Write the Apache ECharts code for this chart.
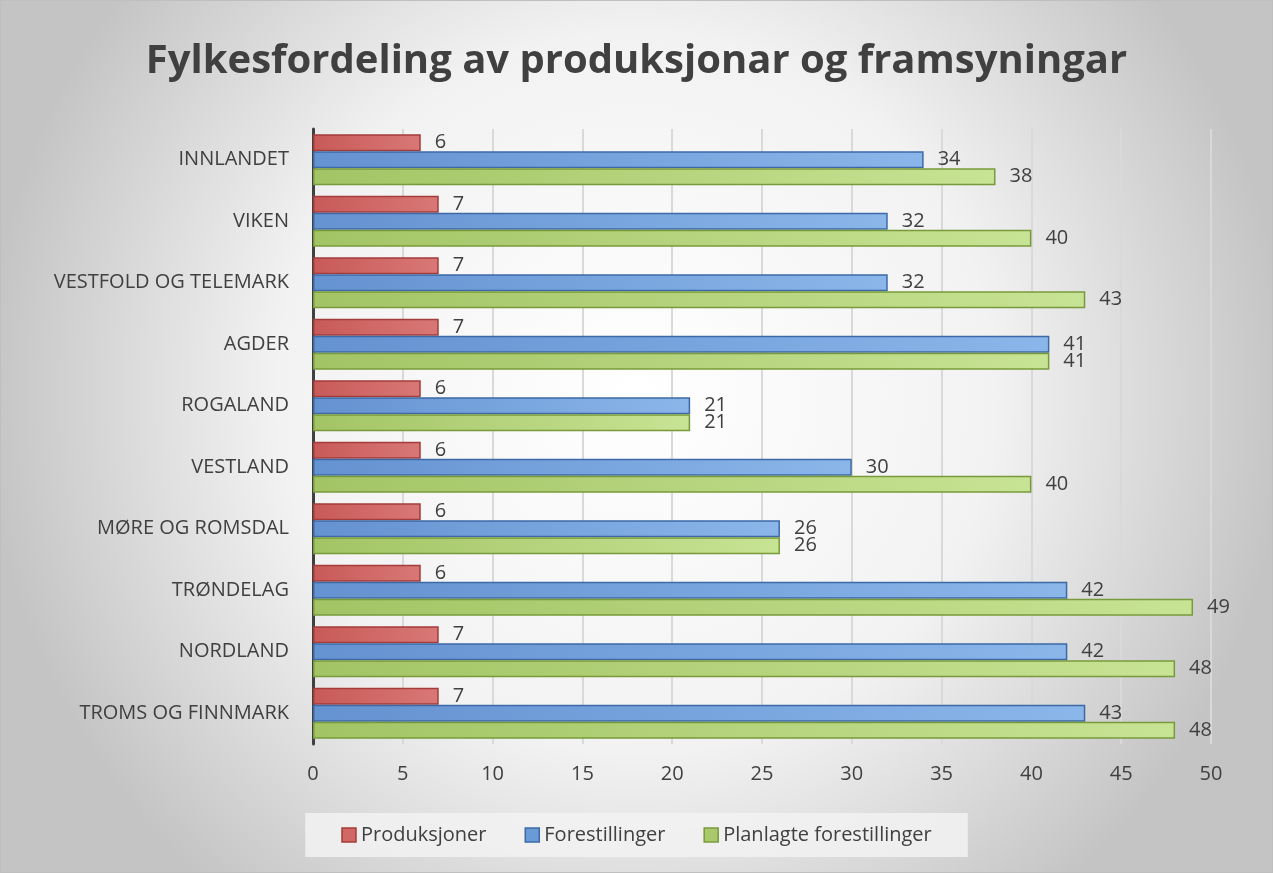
<!DOCTYPE html>
<html>
<head>
<meta charset="utf-8">
<script src="https://cdn.jsdelivr.net/npm/echarts@6/dist/echarts.min.js"></script>
<style>
  html, body { margin: 0; padding: 0; }
  #board { width: 1273px; height: 873px; box-sizing: border-box; border: 1px solid #bfbfbf; }
</style>
</head>
<body>
<div id="board"></div>
<script>
// fylker, ovanfrå og ned
const fylke = ["INNLANDET", "VIKEN", "VESTFOLD OG TELEMARK", "AGDER", "ROGALAND",
  "VESTLAND", "MØRE OG ROMSDAL", "TRØNDELAG", "NORDLAND", "TROMS OG FINNMARK"];
const produksjoner = [6, 7, 7, 7, 6, 6, 6, 6, 7, 7];
const forestillingar = [34, 32, 32, 41, 21, 30, 26, 42, 42, 43];
const planlagte = [38, 40, 43, 41, 21, 40, 26, 49, 48, 48];
const xTicks = [0, 50, 5]; // min, max, steg

const font = "'Open Sans', 'Noto Sans', sans-serif";

function grad(a, b) {
  return new echarts.graphic.LinearGradient(0, 0, 1, 0, [
    { offset: 0, color: a }, { offset: 1, color: b }
  ]);
}

function serie(name, data, fill, border) {
  return {
    name: name,
    type: "bar",
    data: data,
    barGap: "0%",
    barCategoryGap: "17%",
    itemStyle: { color: fill, borderColor: border, borderWidth: 1.5 },
    label: {
      show: true,
      position: "right",
      distance: 14,
      fontFamily: font,
      fontSize: 20,
      color: "#404040"
    }
  };
}

const chart = echarts.init(document.getElementById("board"));
chart.setOption({
  backgroundColor: new echarts.graphic.RadialGradient(0.5, 0.45, 0.75, [
    { offset: 0, color: "#ffffff" },
    { offset: 0.55, color: "#f2f2f2" },
    { offset: 1, color: "#c4c4c4" }
  ]),
  title: {
    text: "Fylkesfordeling av produksjonar og framsyningar",
    left: "center",
    top: 36,
    textStyle: { fontFamily: font, fontSize: 40, fontWeight: "bold", color: "#404040" }
  },
  legend: {
    bottom: 15,
    left: "center",
    icon: "rect",
    itemWidth: 14,
    itemHeight: 14,
    itemGap: 38,
    padding: [12, 36],
    backgroundColor: "rgba(242,242,242,0.85)",
    textStyle: { fontFamily: font, fontSize: 20, color: "#404040" },
    data: [
      { name: "Produksjoner", itemStyle: { color: "#d06866", borderColor: "#a33c3a", borderWidth: 1.5 } },
      { name: "Forestillinger", itemStyle: { color: "#6b9bd6", borderColor: "#3d6aa6", borderWidth: 1.5 } },
      { name: "Planlagte forestillinger", itemStyle: { color: "#a9c96c", borderColor: "#789a3a", borderWidth: 1.5 } }
    ]
  },
  grid: { left: 312, right: 61, top: 128, bottom: 128 },
  xAxis: {
    type: "value",
    min: xTicks[0],
    max: xTicks[1],
    interval: xTicks[2],
    axisLine: { show: false },
    axisTick: { show: false },
    axisLabel: { fontFamily: font, fontSize: 20, color: "#404040", margin: 20 },
    splitLine: { lineStyle: { color: "#d9d9d9", width: 2 } }
  },
  yAxis: {
    type: "category",
    inverse: true,
    data: fylke,
    axisLine: { show: true, lineStyle: { color: "#404040", width: 3 } },
    axisTick: { show: false },
    axisLabel: { fontFamily: font, fontSize: 20, color: "#404040", margin: 24 }
  },
  series: [
    serie("Produksjoner", produksjoner, grad("#c85a58", "#d87876"), "#a33c3a"),
    serie("Forestillinger", forestillingar, grad("#6592d0", "#8ab6ea"), "#3d6aa6"),
    serie("Planlagte forestillinger", planlagte, grad("#a3c465", "#c7e394"), "#789a3a")
  ]
});
</script>
</body>
</html>
